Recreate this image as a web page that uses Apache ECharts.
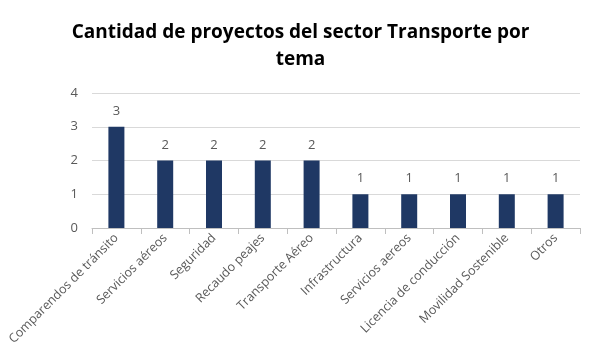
<!DOCTYPE html>
<html><head><meta charset="utf-8">
<script src="https://cdn.jsdelivr.net/npm/echarts@6/dist/echarts.min.js"></script>
<style>html,body{margin:0;padding:0;background:#fff}#c{width:601px;height:364px}</style>
</head><body><div id="c"></div>
<script>
const titleText = "Cantidad de proyectos del sector Transporte por\ntema";
const categories = ["Comparendos de tránsito","Servicios aéreos","Seguridad","Recaudo peajes","Transporte Aéreo","Infrastructura","Servicios aereos","Licencia de conducción","Movilidad Sostenible","Otros"];
const values = [3,2,2,2,2,1,1,1,1,1];
const yTicks = [0,1,2,3,4];

const chart = echarts.init(document.getElementById('c'), null, {renderer:'canvas'});
chart.setOption({
  animation:false,
  title:{text:titleText,left:'center',top:14,textStyle:{fontFamily:'Open Sans',fontWeight:'bold',fontSize:19,color:'#000',lineHeight:27}},
  grid:{left:92,right:21,top:93,bottom:136},
  xAxis:{type:'category',data:categories,
    axisLine:{lineStyle:{color:'#bfbfbf'}},
    axisTick:{show:true,length:6,lineStyle:{color:'#bfbfbf'}},
    axisLabel:{rotate:45,interval:0,color:'#595959',fontFamily:'Open Sans',fontSize:12.5,margin:8}},
  yAxis:{type:'value',min:yTicks[0],max:yTicks[yTicks.length-1],interval:1,
    axisLine:{show:false},axisTick:{show:false},
    splitLine:{lineStyle:{color:'#d9d9d9'}},
    axisLabel:{color:'#595959',fontFamily:'Open Sans',fontSize:13,margin:14}},
  series:[{type:'bar',data:values,barWidth:16,itemStyle:{color:'#1f3864'},
    label:{show:true,position:'top',distance:9,color:'#595959',fontFamily:'Open Sans',fontSize:13}}]
});
</script></body></html>
